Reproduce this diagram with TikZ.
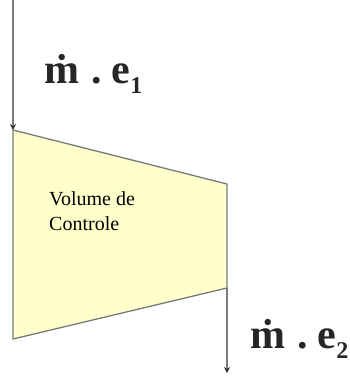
\documentclass[tikz,border=0pt]{standalone}
\usepackage{fontspec}
\setmainfont{Liberation Serif}
\usetikzlibrary{arrows.meta}
\definecolor{cvfill}{HTML}{FFFFCC}
\definecolor{cvline}{HTML}{7A7A7A}
\newcommand{\flowlabel}[1]{\fontsize{42}{42}\selectfont\bfseries\.{m}\hspace{12pt}.\hspace{10pt}e\raisebox{-10pt}{\fontsize{24}{24}\selectfont #1}}
\begin{document}
\begin{tikzpicture}[x=1pt,y=-1pt,
  flow/.style={draw=cvline,line width=1.6pt,-{Stealth[length=6pt,width=6pt,color=black!80]}},
  cvbox/.style={fill=cvfill,draw=cvline,line width=1.3pt},
  biglabel/.style={inner sep=0pt,anchor=base west,text=black!85},
  cvtext/.style={inner sep=0pt,anchor=north west,align=left,font=\fontsize{20}{25}\selectfont}]
\useasboundingbox (0,0) rectangle (350,378);
\coordinate (tl) at (13,130);
\coordinate (tr) at (227,184);
\coordinate (br) at (227,288);
\coordinate (bl) at (13,339);
\coordinate (in) at (13,0);
\coordinate (out) at (227,373);
\draw[cvbox] (tl) -- (tr) -- (br) -- (bl) -- cycle;
\draw[flow] (in) -- (tl);
\draw[flow] (br) -- (out);
\node[biglabel] (l1) at (44,83) {\flowlabel{1}};
\node[biglabel] (l2) at (250,348) {\flowlabel{2}};
\node[cvtext] (cv) at (49,191) {Volume de\\Controle};
\end{tikzpicture}
\end{document}
